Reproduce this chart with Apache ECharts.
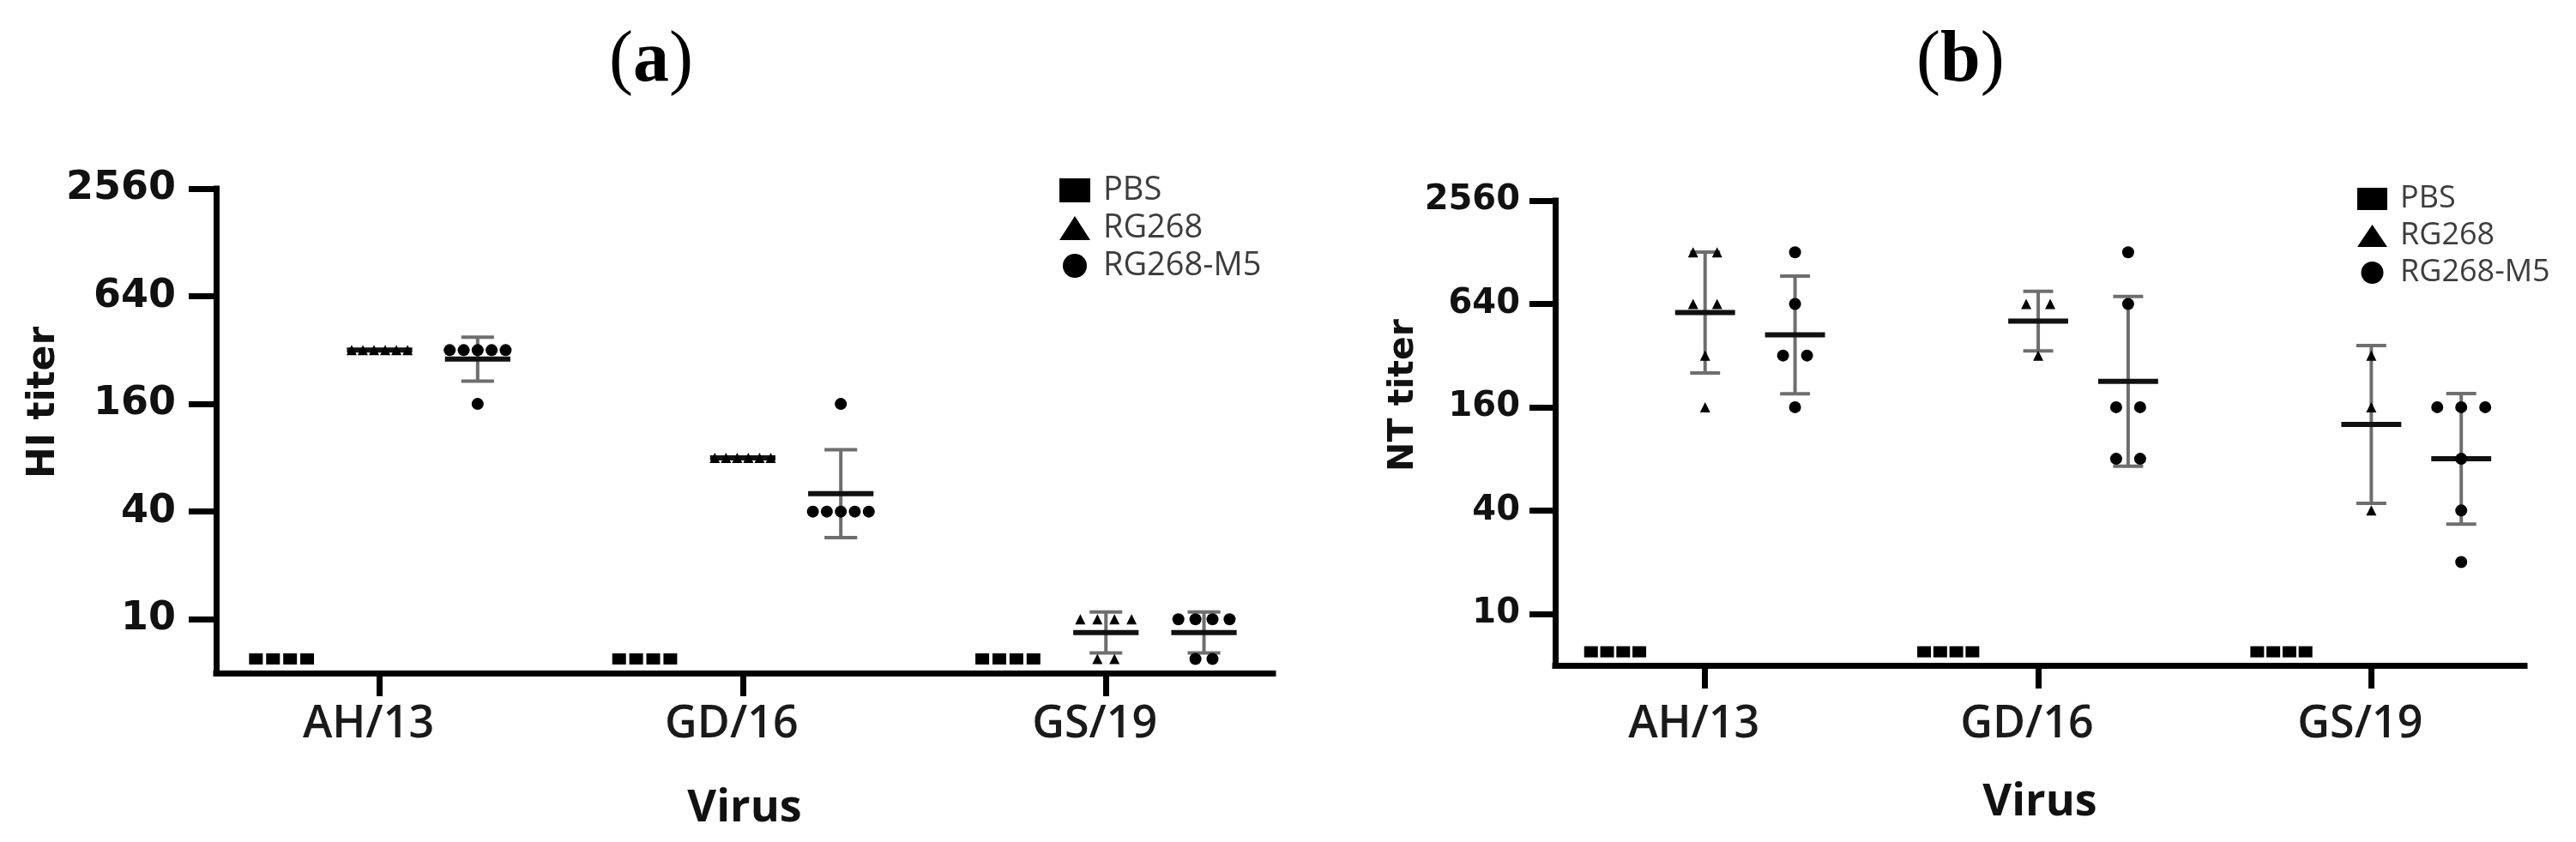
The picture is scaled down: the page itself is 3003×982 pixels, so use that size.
<!DOCTYPE html>
<html>
<head>
<meta charset="utf-8">
<title>HI and NT titers</title>
<script src="https://cdn.jsdelivr.net/npm/echarts@6.0.0/dist/echarts.min.js"></script>
<style>
  html, body { margin: 0; padding: 0; background: #fff; }
  #chart { width: 3003px; height: 982px; }
</style>
</head>
<body>
<div id="chart"></div>
<script>
// ---- data (titer per mouse, one inner list per virus) ----
const viruses = ['AH/13', 'GD/16', 'GS/19'];
const groupNames = ['PBS', 'RG268', 'RG268-M5'];
const titerTicks = [10, 40, 160, 640, 2560];

// (a) HI titer
const hiPBS = [[6, 6, 6, 6], [6, 6, 6, 6], [6, 6, 6, 6]];
const hiRG268 = [[320, 320, 320, 320, 320, 320], [80, 80, 80, 80, 80, 80], [10, 10, 10, 10, 6, 6]];
const hiRG268M5 = [[320, 320, 320, 320, 320, 160], [160, 40, 40, 40, 40, 40], [10, 10, 10, 10, 6, 6]];

// (b) NT titer
const ntPBS = [[6, 6, 6, 6], [6, 6, 6, 6], [6, 6, 6, 6]];
const ntRG268 = [[1280, 1280, 640, 640, 320, 160], [640, 640, 320], [320, 160, 40]];
const ntRG268M5 = [[1280, 640, 320, 320, 160], [1280, 640, 160, 160, 80, 80], [160, 160, 160, 80, 40, 20]];

// ---- look ----
const symbols = ['rect', 'triangle', 'circle'];
const symbolSizes = [[16, 13], 12, 14];
const groupShift = [-0.27, 0, 0.27];   // place of each group around the virus tick
const MEAN_HALF = 0.09;
const CAP_HALF = 0.045;
const tickFont = 'DejaVu Sans';
const textFont = 'Open Sans';

const panels = [
  {
    title: 'a', titleX: 710, yName: 'HI titer',
    groups: [hiPBS, hiRG268, hiRG268M5],
    grid: { left: 252, top: 220, width: 1232, height: 565 },
    yLabelSize: 46, yMargin: 47, yTickLen: 32,
    xMargin: 34, nameSize: 44, nameGap: 153, namePad: 66, xNameGap: 132,
    step: 0.047, span: 0.154,
    legend: { left: 1235, top: 203, itemWidth: 36, itemHeight: 28, fontSize: 38, gap: 6 }
  },
  {
    title: 'b', titleX: 2234, yName: 'NT titer',
    groups: [ntPBS, ntRG268, ntRG268M5],
    grid: { left: 1813, top: 234, width: 1130, height: 542 },
    yLabelSize: 40, yMargin: 41, yTickLen: 30,
    xMargin: 43, nameSize: 41, nameGap: 129, namePad: 88, xNameGap: 134,
    step: 0.072, span: 0.145,
    legend: { left: 2748, top: 214, itemWidth: 35, itemHeight: 26, fontSize: 36, gap: 7 }
  }
];

// equal titers sit side by side, as in the original dot plot
function spread(values, center, step, span) {
  const counts = {};
  values.forEach(v => { counts[v] = (counts[v] || 0) + 1; });
  const pts = [];
  Object.keys(counts).forEach(k => {
    const n = counts[k];
    const s = n > 1 ? Math.min(step, span / (n - 1)) : 0;
    for (let i = 0; i < n; i++) {
      pts.push([center + (i - (n - 1) / 2) * s, Number(k)]);
    }
  });
  return pts;
}

// geometric mean with geometric SD
function geoStats(values) {
  const logs = values.map(v => Math.log2(v));
  const n = logs.length;
  const m = logs.reduce((a, b) => a + b, 0) / n;
  const sd = n > 1 ? Math.sqrt(logs.reduce((a, b) => a + (b - m) * (b - m), 0) / (n - 1)) : 0;
  return [Math.pow(2, m), Math.pow(2, m - sd), Math.pow(2, m + sd)];
}

function drawStats(params, api) {
  const x = api.value(0);
  const mean = api.value(1), lo = api.value(2), hi = api.value(3);
  const seg = (a, b, style) => ({
    type: 'line',
    shape: { x1: a[0], y1: a[1], x2: b[0], y2: b[1] },
    style: style
  });
  const bar = { stroke: '#6e6e6e', lineWidth: 4 };
  const kids = [];
  if (hi > lo * 1.001) {
    kids.push(seg(api.coord([x, lo]), api.coord([x, hi]), bar));
    kids.push(seg(api.coord([x - CAP_HALF, hi]), api.coord([x + CAP_HALF, hi]), bar));
    kids.push(seg(api.coord([x - CAP_HALF, lo]), api.coord([x + CAP_HALF, lo]), bar));
  }
  kids.push(seg(api.coord([x - MEAN_HALF, mean]), api.coord([x + MEAN_HALF, mean]),
    { stroke: '#111', lineWidth: 6 }));
  return { type: 'group', children: kids };
}

const black = '#000';
const option = {
  backgroundColor: '#fff',
  animation: false,
  title: [],
  legend: [],
  grid: [],
  xAxis: [],
  yAxis: [],
  series: []
};

panels.forEach((p, pi) => {
  option.title.push({
    text: '{p|(}{b|' + p.title + '}{p|)}',
    left: p.titleX, top: 30, padding: 0,
    textStyle: {
      fontWeight: 'normal',
      rich: {
        p: { fontFamily: 'Liberation Serif', fontSize: 84, fontWeight: 'normal', color: black },
        b: { fontFamily: 'Liberation Serif', fontSize: 84, fontWeight: 'bold', color: black }
      }
    }
  });
  option.grid.push(Object.assign({ containLabel: false }, p.grid));
  option.xAxis.push({
    type: 'value', gridIndex: pi, min: 0.55, max: 3.46,
    name: 'Virus', nameLocation: 'middle', nameGap: p.xNameGap,
    nameTextStyle: { fontFamily: textFont, fontWeight: 'bold', fontSize: 52, color: '#111' },
    axisLine: { lineStyle: { color: black, width: 7, cap: 'square' } },
    axisTick: { customValues: [1, 2, 3], length: 27, lineStyle: { color: black, width: 7 } },
    axisLabel: {
      customValues: [1, 2, 3], margin: p.xMargin, padding: [0, 26, 0, 0],
      fontFamily: textFont, fontWeight: 600, fontSize: 52, color: '#1a1a1a',
      formatter: v => viruses[Math.round(v) - 1]
    },
    splitLine: { show: false }
  });
  option.yAxis.push({
    type: 'log', logBase: 2, gridIndex: pi, min: 5, max: 2560,
    name: p.yName, nameLocation: 'middle', nameGap: p.nameGap, nameRotate: 90,
    nameTextStyle: {
      fontFamily: tickFont, fontWeight: 'bold', fontSize: p.nameSize, color: '#111',
      padding: [0, 0, 0, p.namePad]
    },
    axisLine: { lineStyle: { color: black, width: 7, cap: 'square' } },
    axisTick: { customValues: titerTicks, length: p.yTickLen, lineStyle: { color: black, width: 7 } },
    axisLabel: {
      customValues: titerTicks, margin: p.yMargin,
      fontFamily: tickFont, fontWeight: 'bold', fontSize: p.yLabelSize, color: '#111',
      formatter: v => String(Math.round(v))
    },
    splitLine: { show: false },
    minorTick: { show: false }
  });
  option.legend.push({
    orient: 'vertical', left: p.legend.left, top: p.legend.top, padding: 0,
    itemWidth: p.legend.itemWidth, itemHeight: p.legend.itemHeight, itemGap: p.legend.gap,
    selectedMode: false,
    data: groupNames.map((g, gi) => ({ name: g, icon: symbols[gi] })),
    textStyle: {
      fontFamily: textFont, fontSize: p.legend.fontSize, color: '#3d3d3d',
      lineHeight: p.legend.itemHeight + 2, padding: [0, 0, 0, 10]
    }
  });

  p.groups.forEach((perVirus, gi) => {
    let pts = [];
    perVirus.forEach((vals, vi) => {
      pts = pts.concat(spread(vals, vi + 1 + groupShift[gi], p.step, p.span));
    });
    option.series.push({
      name: groupNames[gi], type: 'scatter',
      xAxisIndex: pi, yAxisIndex: pi,
      symbol: symbols[gi], symbolSize: symbolSizes[gi],
      itemStyle: { color: black, opacity: 1 },
      data: pts
    });
    if (gi > 0) {
      option.series.push({
        type: 'custom', xAxisIndex: pi, yAxisIndex: pi,
        renderItem: drawStats, clip: false, silent: true,
        encode: { x: 0, y: 1 },
        data: perVirus.map((vals, vi) => [vi + 1 + groupShift[gi]].concat(geoStats(vals)))
      });
    }
  });
});

const chart = echarts.init(document.getElementById('chart'), null, { renderer: 'canvas' });
chart.setOption(option);
</script>
</body>
</html>
